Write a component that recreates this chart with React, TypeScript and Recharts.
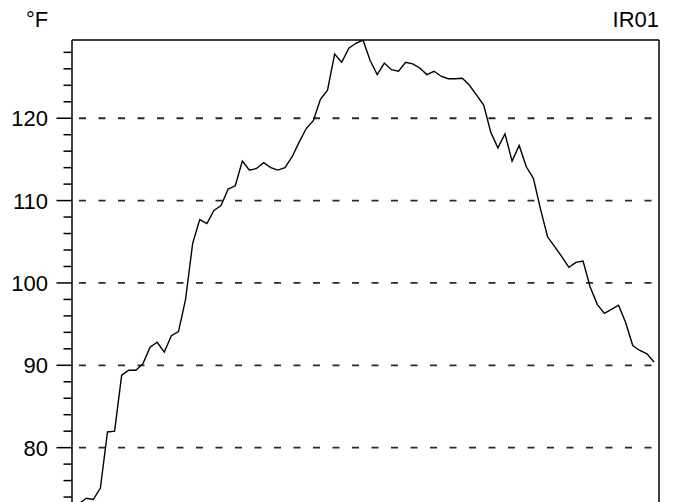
import React from "react";
import { LineChart, Line, XAxis, YAxis, ReferenceLine, Customized } from "recharts";

const temperatures: number[] = [
  72.8, 73.2, 73.85, 73.7, 75.1, 81.9, 82.0, 88.8, 89.4, 89.4,
  90.2, 92.2, 92.8, 91.6, 93.6, 94.1, 98.0, 104.8, 107.7, 107.2,
  108.8, 109.4, 111.4, 111.8, 114.8, 113.7, 113.9, 114.6, 114.0, 113.7,
  114.0, 115.3, 117.1, 118.75, 119.7, 122.3, 123.4, 127.8, 126.8, 128.5,
  129.1, 129.5, 127.0, 125.3, 126.7, 125.9, 125.7, 126.8, 126.6, 126.1,
  125.3, 125.7, 125.1, 124.8, 124.8, 124.85, 124.0, 122.8, 121.6, 118.3,
  116.4, 118.1, 114.8, 116.7, 114.1, 112.7, 109.0, 105.6, 104.4, 103.2,
  101.9, 102.5, 102.65, 99.5, 97.4, 96.3, 96.8, 97.3, 95.2, 92.4,
  91.8, 91.4, 90.4,
];

const yTicks: number[] = [72, 74, 76, 78, 80, 82, 84, 86, 88, 90, 92, 94, 96, 98, 100, 102, 104, 106, 108, 110, 112, 114, 116, 118, 120, 122, 124, 126, 128];
const gridValues: number[] = [80, 90, 100, 110, 120];
const unitLabel = "°F";
const seriesLabel = "IR01";

const data = temperatures.map((t, i) => ({ x: i, t }));

const FONT = "'Liberation Sans', Arial, Helvetica, sans-serif";

const YTick = (props: any) => {
  const { x, y, payload } = props;
  const v = payload.value as number;
  const major = v % 10 === 0;
  const len = major ? 15.5 : 8.5;
  return (
    <g>
      <line x1={x - len} x2={x} y1={y} y2={y} stroke="#000" strokeWidth={1.5} />
      {major && (
        <text x={x - 24} y={y} dy="0.36em" textAnchor="end" fontSize={22} fontFamily={FONT} fill="#000">
          {v}
        </text>
      )}
    </g>
  );
};

const Titles = () => (
  <g>
    <text x={26} y={27} fontSize={22} fontFamily={FONT} fill="#000">{unitLabel}</text>
    <text x={659} y={27} textAnchor="end" fontSize={22} fontFamily={FONT} fill="#000">{seriesLabel}</text>
  </g>
);

export default function App() {
  return (
    <div style={{ position: "absolute", left: 0, top: 0, width: 673, height: 502, overflow: "hidden", background: "#fff" }}>
      <LineChart width={673} height={545} data={data} margin={{ top: 40, right: 14, left: 0, bottom: 15 }}>
        <XAxis dataKey="x" type="number" domain={[0, 82.7]} allowDataOverflow hide />
        <YAxis
          type="number"
          domain={[70, 129.5]}
          allowDataOverflow
          ticks={yTicks}
          interval={0}
          width={72}
          tickSize={0}
          tickMargin={0}
          tickLine={false}
          axisLine={{ stroke: "#000", strokeWidth: 1.5 }}
          tick={<YTick />}
        />
        {gridValues.map((g) => (
          <ReferenceLine key={g} y={g} stroke="#2a2a2a" strokeWidth={1.8} strokeDasharray="7 12.5" strokeDashoffset={12.5} />
        ))}
        <ReferenceLine y={129.5} stroke="#000" strokeWidth={1.5} />
        <ReferenceLine x={82.7} stroke="#000" strokeWidth={1.5} />
        <Line type="linear" dataKey="t" stroke="#000" strokeWidth={1.4} dot={false} isAnimationActive={false} />
        <Customized component={Titles} />
      </LineChart>
    </div>
  );
}
